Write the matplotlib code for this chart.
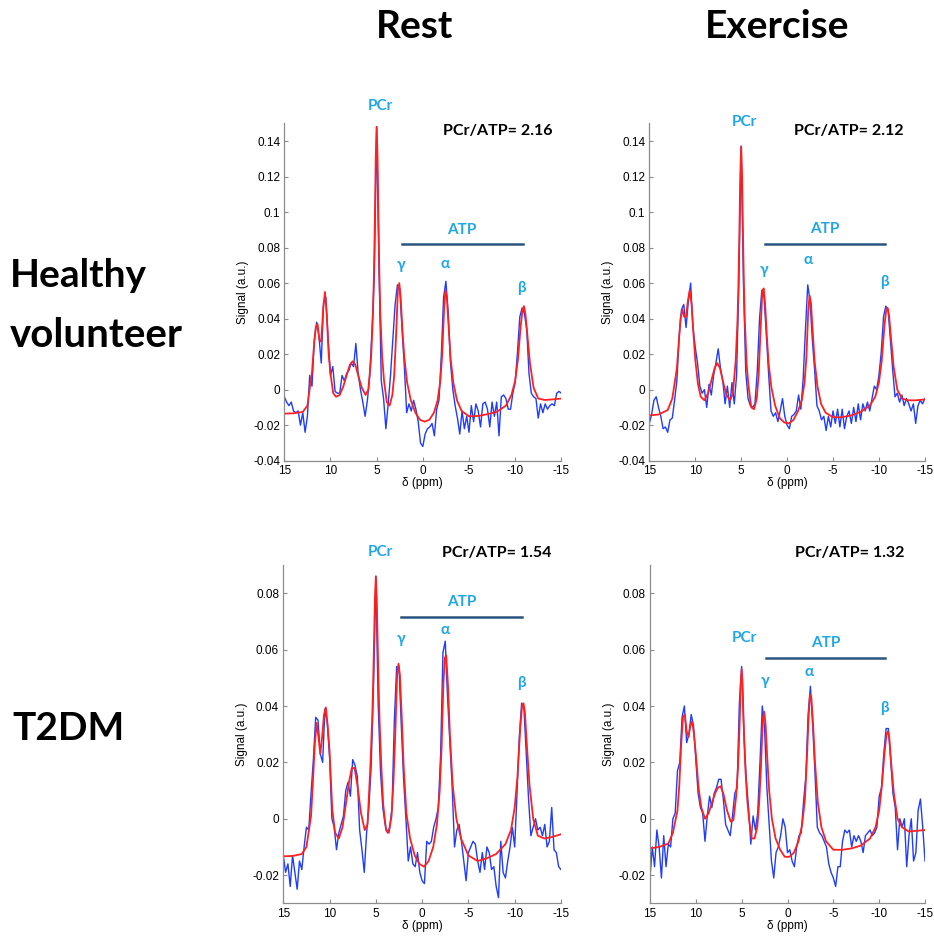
import numpy as np
import matplotlib
matplotlib.use("Agg")
import matplotlib.pyplot as plt
from matplotlib.ticker import FuncFormatter

plt.rcParams["axes.unicode_minus"] = False

# chemical shift axis (ppm) of the measured spectra
PPM = np.linspace(15, -15, 121)

# ppm positions where the fitted model is tabulated
RED_PPM = [15, 14, 13, 12.5, 12, 11.8, 11.6, 11.4, 11.2, 11.0,
           10.8, 10.6, 10.4, 10.2, 10.0, 9.7, 9.4, 9.0, 8.6, 8.2,
           7.9, 7.6, 7.3, 7.0, 6.6, 6.2, 5.9, 5.6, 5.4, 5.3,
           5.2, 5.1, 5.0, 4.9, 4.8, 4.7, 4.6, 4.4, 4.2, 3.9,
           3.6, 3.3, 3.1, 2.9, 2.7, 2.55, 2.4, 2.2, 2.0, 1.7,
           1.3, 0.8, 0.3, -0.2, -0.7, -1.2, -1.6, -1.9, -2.1, -2.3,
           -2.45, -2.6, -2.8, -3.0, -3.3, -3.7, -4.2, -5, -6, -7,
           -8, -9, -9.6, -10.0, -10.3, -10.6, -10.8, -10.95, -11.1, -11.3,
           -11.6, -12.0, -12.5, -13.2, -14, -15]

# healthy volunteer, rest
HV_REST_SIGNAL = [
    -0.004, -0.007, -0.009, -0.007, -0.012, -0.013, -0.012, -0.020, -0.013, -0.024,
    -0.015, 0.008, 0.002, 0.028, 0.038, 0.030, 0.015, 0.049, 0.052, 0.028,
    0.008, 0.013, -0.001, -0.002, -0.002, 0.008, 0.005, 0.009, 0.011, 0.015,
    0.013, 0.026, 0.009, 0.000, -0.007, -0.015, -0.006, 0.008, 0.034, 0.065,
    0.148, 0.070, 0.005, -0.005, -0.022, -0.008, 0.008, 0.028, 0.048, 0.059,
    0.057, 0.034, 0.013, -0.013, -0.008, -0.012, -0.006, -0.011, -0.018, -0.030,
    -0.032, -0.025, -0.022, -0.021, -0.019, -0.026, -0.011, -0.006, 0.019, 0.052,
    0.061, 0.043, 0.015, 0.000, -0.009, -0.016, -0.025, -0.012, -0.022, -0.015,
    -0.024, -0.009, -0.018, -0.008, -0.012, -0.021, -0.008, -0.007, -0.011, -0.021,
    -0.007, -0.015, -0.007, -0.026, -0.004, -0.003, -0.005, -0.011, -0.011, -0.002,
    0.004, 0.021, 0.041, 0.046, 0.043, 0.034, 0.009, -0.002, -0.004, -0.005,
    -0.016, -0.008, -0.013, -0.008, -0.011, -0.009, -0.008, -0.009, -0.002, -0.001,
    -0.002]
HV_REST_FIT = [
    -0.0135, -0.0133, -0.0125, -0.009, 0.010, 0.024, 0.035, 0.037, 0.028, 0.027,
    0.045, 0.055, 0.042, 0.020, 0.009, -0.002, -0.004, -0.003, 0.002, 0.009,
    0.014, 0.016, 0.014, 0.008, 0.001, -0.003, 0.000, 0.018, 0.042, 0.064,
    0.094, 0.130, 0.148, 0.130, 0.094, 0.064, 0.042, 0.018, 0.005, -0.007,
    -0.009, -0.003, 0.008, 0.030, 0.056, 0.060, 0.052, 0.033, 0.018, 0.004,
    -0.006, -0.013, -0.017, -0.018, -0.017, -0.013, -0.006, 0.005, 0.020, 0.045,
    0.056, 0.052, 0.035, 0.018, 0.004, -0.006, -0.012, -0.015, -0.0148, -0.0138,
    -0.0125, -0.009, -0.003, 0.005, 0.017, 0.036, 0.045, 0.047, 0.043, 0.032,
    0.015, 0.001, -0.005, -0.0058, -0.0055, -0.005]

# healthy volunteer, exercise
HV_EX_SIGNAL = [
    -0.019, -0.014, -0.006, -0.004, -0.010, -0.015, -0.022, -0.021, -0.024, -0.017,
    -0.016, -0.006, 0.005, 0.030, 0.045, 0.048, 0.035, 0.050, 0.060, 0.035,
    0.024, 0.015, 0.002, -0.002, 0.000, -0.010, 0.003, -0.003, 0.008, 0.015,
    0.023, 0.012, 0.005, -0.008, 0.002, -0.010, 0.004, -0.008, 0.008, 0.060,
    0.137, 0.060, 0.010, -0.005, -0.009, -0.010, -0.008, 0.010, 0.040, 0.056,
    0.052, 0.030, 0.008, -0.012, -0.015, -0.013, -0.018, -0.012, -0.005, -0.015,
    -0.020, -0.022, -0.015, -0.014, -0.012, -0.003, -0.011, 0.006, 0.034, 0.059,
    0.050, 0.028, 0.011, -0.009, -0.012, -0.017, -0.015, -0.023, -0.015, -0.021,
    -0.012, -0.019, -0.011, -0.021, -0.011, -0.022, -0.015, -0.012, -0.019, -0.010,
    -0.018, -0.008, -0.017, -0.008, -0.012, -0.007, -0.012, -0.005, 0.002, 0.000,
    0.008, 0.021, 0.041, 0.047, 0.045, 0.028, 0.011, -0.004, -0.002, -0.007,
    -0.003, -0.009, -0.005, -0.008, -0.012, -0.008, -0.019, -0.009, -0.006, -0.008,
    -0.005]
HV_EX_FIT = [
    -0.0145, -0.0140, -0.0115, -0.005, 0.012, 0.026, 0.040, 0.045, 0.041, 0.041,
    0.050, 0.056, 0.048, 0.032, 0.017, 0.003, -0.004, -0.006, -0.002, 0.006,
    0.012, 0.015, 0.012, 0.005, -0.003, -0.006, -0.002, 0.016, 0.039, 0.059,
    0.087, 0.120, 0.137, 0.120, 0.087, 0.059, 0.039, 0.014, 0.002, -0.010,
    -0.011, -0.005, 0.008, 0.032, 0.055, 0.057, 0.049, 0.030, 0.014, 0.001,
    -0.009, -0.016, -0.0185, -0.019, -0.017, -0.012, -0.006, 0.004, 0.018, 0.044,
    0.053, 0.049, 0.032, 0.016, 0.002, -0.008, -0.013, -0.0155, -0.0155, -0.0145,
    -0.0125, -0.009, -0.004, 0.004, 0.016, 0.036, 0.045, 0.046, 0.042, 0.030,
    0.013, 0.000, -0.005, -0.006, -0.006, -0.0055]

# T2DM, rest
T2_REST_SIGNAL = [
    -0.013, -0.019, -0.016, -0.024, -0.013, -0.019, -0.025, -0.015, -0.018, -0.010,
    -0.003, -0.004, 0.009, 0.021, 0.036, 0.035, 0.023, 0.020, 0.039, 0.034,
    0.022, 0.000, -0.003, -0.011, -0.005, -0.002, 0.001, 0.010, 0.013, 0.008,
    0.021, 0.019, 0.015, -0.004, -0.011, -0.019, -0.005, 0.004, 0.019, 0.047,
    0.086, 0.041, 0.017, 0.004, -0.002, -0.005, -0.003, 0.004, 0.035, 0.054,
    0.054, 0.033, 0.014, 0.000, -0.015, -0.010, -0.016, -0.017, -0.012, -0.019,
    -0.022, -0.023, -0.008, -0.009, -0.008, -0.003, 0.000, 0.004, 0.023, 0.059,
    0.063, 0.043, 0.027, 0.011, -0.010, -0.004, -0.002, -0.008, -0.015, -0.022,
    -0.012, -0.010, -0.008, -0.009, -0.015, -0.019, -0.012, -0.018, -0.010, -0.012,
    -0.018, -0.017, -0.024, -0.028, -0.008, -0.019, -0.021, -0.015, -0.010, -0.003,
    -0.010, 0.009, 0.029, 0.041, 0.039, 0.023, 0.007, -0.006, -0.003, 0.000,
    -0.004, -0.003, -0.006, -0.002, -0.010, -0.008, 0.004, -0.011, -0.012, -0.017,
    -0.018]
T2_REST_FIT = [
    -0.0133, -0.0132, -0.0125, -0.010, 0.001, 0.013, 0.026, 0.034, 0.029, 0.023,
    0.029, 0.037, 0.0395, 0.033, 0.024, 0.003, -0.005, -0.007, -0.003, 0.006,
    0.013, 0.018, 0.018, 0.012, 0.002, -0.004, -0.002, 0.018, 0.035, 0.047,
    0.062, 0.078, 0.086, 0.078, 0.062, 0.047, 0.035, 0.018, 0.005, -0.004,
    -0.005, 0.001, 0.013, 0.030, 0.051, 0.055, 0.051, 0.036, 0.019, 0.002,
    -0.007, -0.013, -0.016, -0.017, -0.015, -0.010, -0.002, 0.010, 0.025, 0.048,
    0.057, 0.058, 0.047, 0.030, 0.012, 0.000, -0.007, -0.013, -0.015, -0.014,
    -0.0125, -0.009, -0.004, 0.004, 0.015, 0.032, 0.040, 0.041, 0.038, 0.027,
    0.012, 0.000, -0.006, -0.007, -0.0065, -0.0055]

# T2DM, exercise
T2_EX_SIGNAL = [
    -0.021, -0.010, -0.017, -0.004, -0.010, -0.021, -0.006, -0.017, -0.009, -0.010,
    0.000, 0.002, 0.017, 0.020, 0.036, 0.040, 0.027, 0.030, 0.037, 0.033,
    0.021, 0.009, 0.004, 0.002, -0.008, 0.001, 0.008, 0.004, 0.009, 0.011,
    0.014, 0.014, 0.007, -0.002, -0.004, -0.006, 0.001, 0.009, 0.011, 0.041,
    0.054, 0.030, 0.014, 0.004, -0.009, 0.001, -0.004, 0.002, 0.020, 0.040,
    0.032, 0.011, -0.002, -0.015, -0.021, -0.012, -0.010, -0.006, 0.000, -0.003,
    -0.012, -0.011, -0.015, -0.017, -0.010, -0.006, -0.005, 0.006, 0.015, 0.037,
    0.047, 0.033, 0.016, -0.003, -0.005, -0.006, -0.008, -0.010, -0.016, -0.019,
    -0.021, -0.024, -0.017, -0.017, -0.008, -0.004, -0.005, -0.004, -0.010, -0.006,
    -0.008, -0.006, -0.008, -0.012, -0.006, -0.005, -0.004, -0.006, -0.005, -0.003,
    0.008, 0.011, 0.023, 0.032, 0.032, 0.021, 0.009, 0.004, -0.011, 0.000,
    -0.003, 0.000, -0.017, -0.006, 0.000, -0.015, -0.012, 0.003, 0.007, -0.003,
    -0.015]
T2_EX_FIT = [
    -0.0105, -0.010, -0.0088, -0.005, 0.003, 0.012, 0.026, 0.036, 0.037, 0.031,
    0.029, 0.033, 0.0345, 0.030, 0.023, 0.011, 0.004, 0.000, 0.002, 0.006,
    0.009, 0.011, 0.0115, 0.009, 0.003, -0.001, -0.0005, 0.008, 0.018, 0.026,
    0.036, 0.048, 0.053, 0.048, 0.036, 0.026, 0.018, 0.007, 0.000, -0.007,
    -0.007, -0.003, 0.005, 0.018, 0.035, 0.038, 0.034, 0.021, 0.010, 0.000,
    -0.007, -0.011, -0.0135, -0.0135, -0.012, -0.008, -0.002, 0.007, 0.020, 0.036,
    0.044, 0.043, 0.033, 0.020, 0.006, -0.003, -0.008, -0.011, -0.011, -0.0105,
    -0.0095, -0.007, -0.003, 0.003, 0.012, 0.024, 0.030, 0.031, 0.029, 0.020,
    0.009, 0.000, -0.003, -0.0045, -0.0043, -0.004]

RATIOS = ["2.16", "2.12", "1.54", "1.32"]
COL_TITLES = ["Rest", "Exercise"]
ROW_TITLES = [["Healthy", "volunteer"], ["T2DM"]]

BLUE = "#1f3cff"
RED = "#ff2020"
CYAN = "#1fa6e6"
NAVY = "#2b5580"
GREY = "#8c8c8c"
TITLE_FONT = ["Lato", "Open Sans", "DejaVu Sans"]
TICK_FONT = ["Liberation Sans", "DejaVu Sans"]

# per panel layout: axes rect, y limits/ticks, annotation anchors (data coords)
PANELS = [
    dict(sig=HV_REST_SIGNAL, fit=HV_REST_FIT, ratio=RATIOS[0],
         rect=[0.3044, 0.5078, 0.2966, 0.3605],
         ylim=(-0.04, 0.15), yticks=np.arange(-0.04, 0.141, 0.02),
         pcr=(4.6, 0.160), ratio_xy=(-8.1, 0.1456),
         atp_y=0.082, atp_x=(2.25, -10.8), atp_lbl=(-4.2, 0.090),
         g=(2.4, 0.070), a=(-2.4, 0.071), b=(-10.7, 0.057)),
    dict(sig=HV_EX_SIGNAL, fit=HV_EX_FIT, ratio=RATIOS[1],
         rect=[0.6952, 0.5078, 0.2950, 0.3605],
         ylim=(-0.04, 0.15), yticks=np.arange(-0.04, 0.141, 0.02),
         pcr=(4.7, 0.1506), ratio_xy=(-6.7, 0.1456),
         atp_y=0.082, atp_x=(2.35, -10.7), atp_lbl=(-4.1, 0.0905),
         g=(2.46, 0.0676), a=(-2.3, 0.0728), b=(-10.6, 0.0607)),
    dict(sig=T2_REST_SIGNAL, fit=T2_REST_FIT, ratio=RATIOS[2],
         rect=[0.3033, 0.0349, 0.2973, 0.3614],
         ylim=(-0.03, 0.09), yticks=np.arange(-0.02, 0.081, 0.02),
         pcr=(4.55, 0.0946), ratio_xy=(-8.1, 0.0943),
         atp_y=0.0717, atp_x=(2.28, -10.8), atp_lbl=(-4.27, 0.077),
         g=(2.32, 0.0637), a=(-2.47, 0.067), b=(-10.75, 0.048)),
    dict(sig=T2_EX_SIGNAL, fit=T2_EX_FIT, ratio=RATIOS[3],
         rect=[0.6959, 0.0349, 0.2945, 0.3614],
         ylim=(-0.03, 0.09), yticks=np.arange(-0.02, 0.081, 0.02),
         pcr=(4.74, 0.064), ratio_xy=(-6.8, 0.0943),
         atp_y=0.0572, atp_x=(2.33, -10.67), atp_lbl=(-4.15, 0.0623),
         g=(2.5, 0.0487), a=(-2.36, 0.0522), b=(-10.57, 0.0392)),
]


def fmt_tick(v, _pos):
    v = round(v, 4)
    if abs(v) < 1e-9:
        return "0"
    return f"{v:g}"


def draw_panel(fig, p):
    ax = fig.add_axes(p["rect"])
    ax.plot(PPM, p["sig"], color=BLUE, lw=1.0)
    ax.plot(RED_PPM, p["fit"], color=RED, lw=1.3)

    ax.set_xlim(15, -15)
    ax.set_ylim(*p["ylim"])
    ax.set_xticks([15, 10, 5, 0, -5, -10, -15])
    ax.set_yticks(p["yticks"])
    ax.xaxis.set_major_formatter(FuncFormatter(fmt_tick))
    ax.yaxis.set_major_formatter(FuncFormatter(fmt_tick))
    for sp in ("top", "right"):
        ax.spines[sp].set_visible(False)
    for sp in ("left", "bottom"):
        ax.spines[sp].set_color(GREY)
        ax.spines[sp].set_linewidth(0.9)
    ax.tick_params(direction="in", length=3, color=GREY, labelsize=8.5, pad=3)
    for lbl in ax.get_xticklabels() + ax.get_yticklabels():
        lbl.set_family(TICK_FONT)
    ax.set_xlabel("δ (ppm)", fontsize=8.5, family=TICK_FONT, labelpad=0)
    ax.set_ylabel("Signal (a.u.)", fontsize=8.5, family=TICK_FONT, labelpad=3)

    kw = dict(color=CYAN, fontsize=11, fontweight="bold", family=TITLE_FONT,
              ha="center", va="center", clip_on=False)
    ax.text(*p["pcr"], "PCr", **kw)
    ax.text(*p["atp_lbl"], "ATP", **kw)
    ax.text(*p["g"], "γ", **kw)
    ax.text(*p["a"], "α", **kw)
    ax.text(*p["b"], "β", **kw)
    ax.plot(p["atp_x"], [p["atp_y"]] * 2, color=NAVY, lw=1.8)
    ax.text(*p["ratio_xy"], f"PCr/ATP= {p['ratio']}", fontsize=11.5,
            fontweight="bold", family=TITLE_FONT, ha="center", va="center",
            color="black", clip_on=False)
    return ax


def main():
    fig = plt.figure(figsize=(9.34, 9.36), dpi=100)
    for p in PANELS:
        draw_panel(fig, p)

    big = dict(fontsize=28, fontweight="bold", family=TITLE_FONT, color="black")
    fig.text(0.4443, 0.9594, COL_TITLES[0], ha="center", va="baseline", **big)
    fig.text(0.8319, 0.9594, COL_TITLES[1], ha="center", va="baseline", **big)
    fig.text(0.0107, 0.6934, ROW_TITLES[0][0], ha="left", va="baseline", **big)
    fig.text(0.0107, 0.6295, ROW_TITLES[0][1], ha="left", va="baseline",
             fontsize=29, fontweight="bold", family=TITLE_FONT, color="black")
    fig.text(0.0128, 0.2094, ROW_TITLES[1][0], ha="left", va="baseline", **big)

    fig.savefig("out.png", dpi=100)
    plt.close(fig)


if __name__ == "__main__":
    main()
